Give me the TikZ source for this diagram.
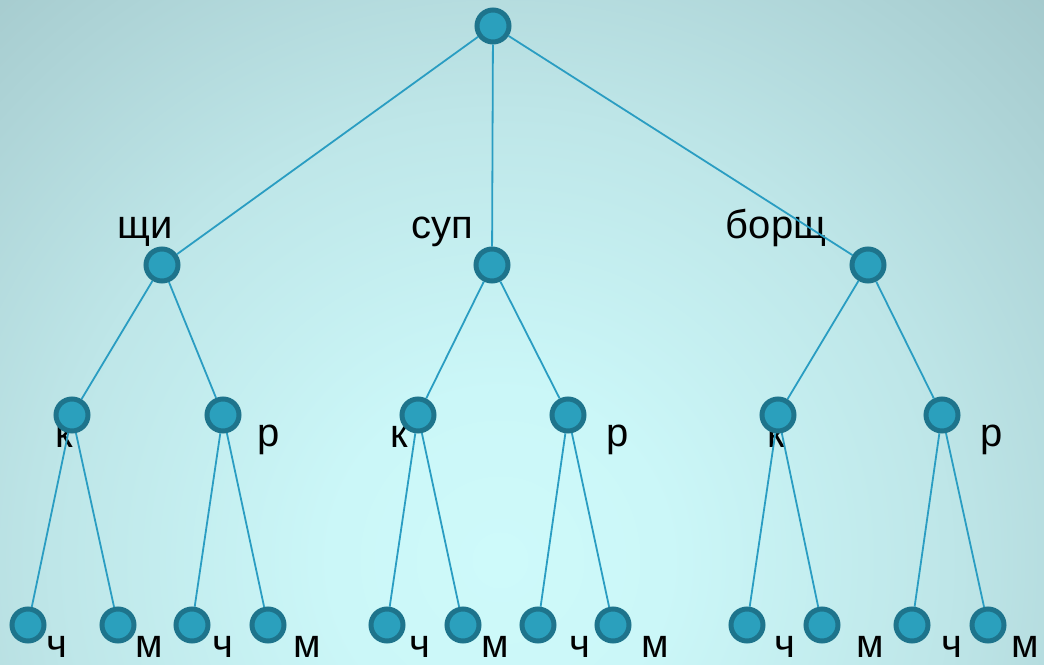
\documentclass[tikz,border=0pt]{standalone}
\usepackage{fontspec}
\setmainfont{Liberation Sans}
\definecolor{bgA}{HTML}{CEFAFA}
\definecolor{bgB}{HTML}{CBF7F8}
\definecolor{bgC}{HTML}{BEE6E8}
\definecolor{bgD}{HTML}{ADD3D6}
\definecolor{bgE}{HTML}{9EC3C6}
\definecolor{bgF}{HTML}{97BBBE}
\definecolor{nodefill}{HTML}{2BA0BD}
\definecolor{nodeline}{HTML}{1E748C}
\definecolor{edgecol}{HTML}{2A9DC2}
\pgfdeclareradialshading{bgshade}{\pgfpoint{0bp}{0bp}}{color(0bp)=(bgA); color(6bp)=(bgB); color(16bp)=(bgC); color(24bp)=(bgD); color(31bp)=(bgE); color(38bp)=(bgF); color(60bp)=(bgF)}
\begin{document}
\begin{tikzpicture}[x=1pt,y=-1pt,
  tnode/.style={circle, fill=nodefill, draw=nodeline, line width=5pt, minimum size=32pt, inner sep=0pt},
  lbl/.style={anchor=base, inner sep=0pt, font=\fontsize{40}{42}\selectfont},
  edge/.style={draw=edgecol, line width=1.8pt}]
\useasboundingbox (0,0) rectangle (1044,664);
\begin{scope}
\clip (0,0) rectangle (1044,664);
\shade[shading=bgshade] (-200,-140) rectangle (1200,1260);
\end{scope}
% labels
\node[lbl] (lA) at (145,238) {щи};
\node[lbl] (lB) at (442,238) {суп};
\node[lbl] (lC) at (776,238) {борщ};
\node[lbl] (lA1) at (64,447) {к};
\node[lbl] (lA2) at (269,446) {р};
\node[lbl] (lB1) at (399,447) {к};
\node[lbl] (lB2) at (618,446) {р};
\node[lbl] (lC1) at (776,447) {к};
\node[lbl] (lC2) at (992,446) {р};
\node[lbl] (l1) at (57,657) {ч};
\node[lbl] (l2) at (149,657) {м};
\node[lbl] (l3) at (223,657) {ч};
\node[lbl] (l4) at (307,657) {м};
\node[lbl] (l5) at (420,657) {ч};
\node[lbl] (l6) at (495,657) {м};
\node[lbl] (l7) at (580,657) {ч};
\node[lbl] (l8) at (655,657) {м};
\node[lbl] (l9) at (785,657) {ч};
\node[lbl] (l10) at (870,657) {м};
\node[lbl] (l11) at (952,657) {ч};
\node[lbl] (l12) at (1025,657) {м};
% nodes
\node[tnode] (R) at (493,26) {};
\node[tnode] (A) at (162,265) {};
\node[tnode] (B) at (492,265) {};
\node[tnode] (C) at (868,265) {};
\node[tnode] (A1) at (72,415) {};
\node[tnode] (A2) at (223,415) {};
\node[tnode] (B1) at (418,415) {};
\node[tnode] (B2) at (568,415) {};
\node[tnode] (C1) at (778,415) {};
\node[tnode] (C2) at (942,415) {};
\node[tnode] (A1a) at (28,625) {};
\node[tnode] (A1b) at (118,625) {};
\node[tnode] (A2a) at (192,625) {};
\node[tnode] (A2b) at (268,625) {};
\node[tnode] (B1a) at (387,625) {};
\node[tnode] (B1b) at (463,625) {};
\node[tnode] (B2a) at (538,625) {};
\node[tnode] (B2b) at (613,625) {};
\node[tnode] (C1a) at (747,625) {};
\node[tnode] (C1b) at (822,625) {};
\node[tnode] (C2a) at (912,625) {};
\node[tnode] (C2b) at (988,625) {};
% edges
\draw[edge] (R) -- (A);
\draw[edge] (R) -- (B);
\draw[edge] (R) -- (C);
\draw[edge] (A) -- (A1);
\draw[edge] (A) -- (A2);
\draw[edge] (B) -- (B1);
\draw[edge] (B) -- (B2);
\draw[edge] (C) -- (C1);
\draw[edge] (C) -- (C2);
\draw[edge] (A1) -- (A1a);
\draw[edge] (A1) -- (A1b);
\draw[edge] (A2) -- (A2a);
\draw[edge] (A2) -- (A2b);
\draw[edge] (B1) -- (B1a);
\draw[edge] (B1) -- (B1b);
\draw[edge] (B2) -- (B2a);
\draw[edge] (B2) -- (B2b);
\draw[edge] (C1) -- (C1a);
\draw[edge] (C1) -- (C1b);
\draw[edge] (C2) -- (C2a);
\draw[edge] (C2) -- (C2b);
\end{tikzpicture}
\end{document}
